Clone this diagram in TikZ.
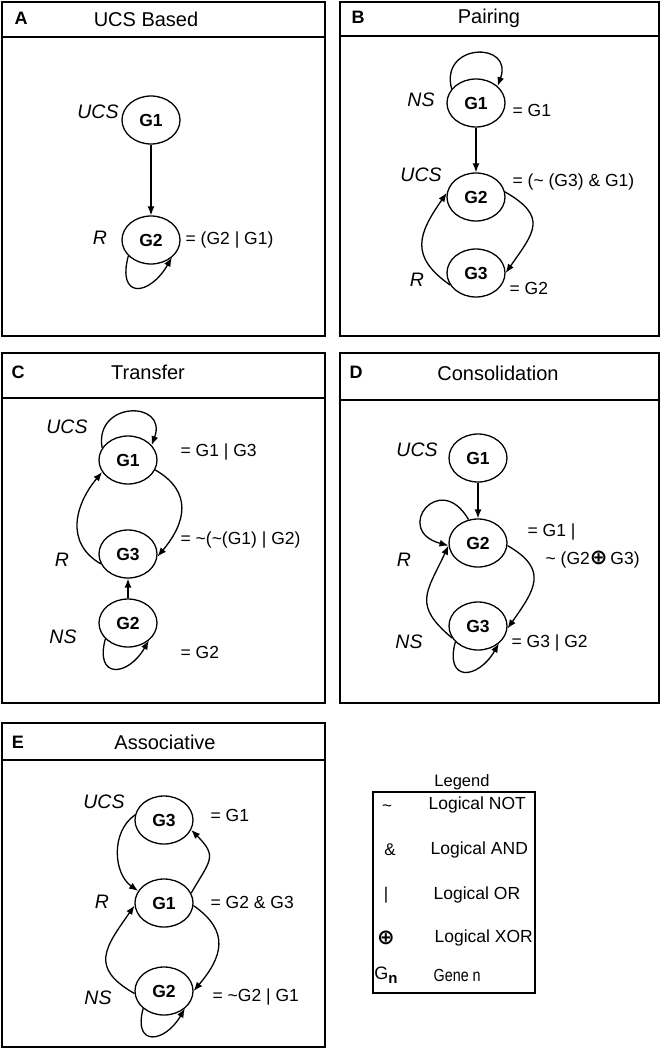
\documentclass[tikz,border=0pt]{standalone}
\usepackage{graphicx}
\usepackage{fontspec}
\setmainfont{Liberation Sans}
\newfontfamily\symfont{DejaVu Sans}
\usetikzlibrary{shapes.geometric, positioning, arrows.meta}

\newcommand{\xorsym}{{\symfont\bfseries\fontsize{21}{21}\selectfont ⊕}}

\begin{document}
\begin{tikzpicture}[x=1pt, y=1pt, on grid, line width=1.3pt,
    >={Latex[length=9pt,width=7pt]}]
        \tikzset{gene/.style={ellipse, draw, minimum width=58pt, minimum height=48pt,
                inner sep=0pt, font=\fontsize{17.5}{18}\selectfont\bfseries}}
        \tikzset{role/.style={inner sep=0pt, font=\fontsize{19.5}{20}\selectfont\itshape}}
        \tikzset{eqn/.style={inner sep=0pt, anchor=west, font=\fontsize{17.5}{18}\selectfont}}
        \tikzset{title/.style={inner sep=0pt, font=\fontsize{20}{21}\selectfont}}
        \tikzset{letter/.style={inner sep=0pt, font=\fontsize{18}{18}\selectfont\bfseries}}
        \tikzset{panel/.style={draw, line width=1.5pt}}
        \tikzset{legsym/.style={inner sep=0pt, font=\fontsize{17}{17}\selectfont}}
        \tikzset{legtext/.style={inner sep=0pt, anchor=west, font=\fontsize{17.5}{18}\selectfont}}

        \useasboundingbox (0,0) rectangle (664,-1051);

        % panel frames
        \draw[panel] (2,-2) rectangle (325,-336);
        \draw[panel] (2,-37) -- (325,-37);
        \draw[panel] (340,-2) rectangle (659,-336);
        \draw[panel] (340,-36) -- (659,-36);
        \draw[panel] (2,-353) rectangle (325,-703);
        \draw[panel] (2,-398) -- (325,-398);
        \draw[panel] (340,-353) rectangle (659,-703);
        \draw[panel] (340,-400) -- (659,-400);
        \draw[panel] (2,-723) rectangle (325,-1047);
        \draw[panel] (2,-760) -- (325,-760);

        % A: UCS based
        \node[letter] (a_l) at (21,-18) {A};
        \node[title] (a_t) at (146,-19) {UCS Based};
        \node[gene] (a_1) at (151,-120) {G1};
        \node[gene] (a_2) [below=120pt of a_1] {G2};
        \node[role] (a_ucs) at (98,-112) {UCS};
        \node[role] (a_r) at (100,-238) {R};
        \node[eqn] (a_e2) at (185,-240) {= (G2 | G1)};
        \path[->]
        (a_1) edge (a_2)
        (a_2.215) edge[out=255, in=240, distance=45pt] (a_2.-40);

        % B: pairing
        \node[letter] (b_l) at (358,-17) {B};
        \node[title] (b_t) at (489,-18) {Pairing};
        \node[gene] (b_1) at (476,-103) {G1};
        \node[gene] (b_2) [below=94pt of b_1] {G2};
        \node[gene] (b_3) [below=76pt of b_2] {G3};
        \node[role] (b_ns) at (421,-100) {NS};
        \node[role] (b_ucs) at (421,-175) {UCS};
        \node[role] (b_r) at (417,-280) {R};
        \node[eqn] (b_e1) at (512,-110) {= G1};
        \node[eqn] (b_e2) at (512,-182) {= (\textasciitilde{} (G3) \& G1)};
        \node[eqn] (b_e3) at (509,-288) {= G2};
        \path[->]
        (b_1) edge (b_2)
        (b_1.150) edge[out=105, in=70, distance=48pt] (b_1.38)
        (b_2.10) edge[out=-30, in=55, distance=50pt] (b_3.0)
        (b_3.205) edge[out=145, in=235, distance=50pt] (b_2.172);

        % C: transfer
        \node[letter] (c_l) at (18,-372) {C};
        \node[title] (c_t) at (148,-372) {Transfer};
        \node[gene] (c_1) at (128,-460) {G1};
        \node[gene] (c_3) [below=94pt of c_1] {G3};
        \node[gene] (c_2) [below=69pt of c_3] {G2};
        \node[role] (c_ucs) at (67,-427) {UCS};
        \node[role] (c_r) at (62,-560) {R};
        \node[role] (c_ns) at (63,-637) {NS};
        \node[eqn] (c_e1) at (180,-452) {= G1 | G3};
        \node[eqn] (c_e3) at (180,-540) {= \textasciitilde(\textasciitilde(G1) | G2)};
        \node[eqn] (c_e2) at (180,-652) {= G2};
        \path[->]
        (c_2) edge (c_3)
        (c_1.155) edge[out=100, in=70, distance=48pt] (c_1.32)
        (c_1.-20) edge[out=-30, in=50, distance=44pt] (c_3.-5)
        (c_3.200) edge[out=150, in=230, distance=42pt] (c_1.205)
        (c_2.215) edge[out=255, in=240, distance=42pt] (c_2.-40);

        % D: consolidation
        \node[letter] (d_l) at (356,-372) {D};
        \node[title] (d_t) at (498,-373) {Consolidation};
        \node[gene] (d_1) at (478,-458) {G1};
        \node[gene] (d_2) [below=85pt of d_1] {G2};
        \node[gene] (d_3) [below=83pt of d_2] {G3};
        \node[role] (d_ucs) at (417,-450) {UCS};
        \node[role] (d_r) at (404,-560) {R};
        \node[role] (d_ns) at (409,-642) {NS};
        \node[eqn] (d_e2a) at (527,-532) {= G1 |};
        \node[eqn] (d_e2b) at (545,-560) {\textasciitilde{} (G2\xorsym\,G3)};
        \node[eqn] (d_e3) at (511,-643) {= G3 | G2};
        \path[->]
        (d_1) edge (d_2)
        (d_2.112) edge[out=120, in=165, distance=58pt] (d_2.185)
        (d_3.205) edge[out=140, in=245, distance=52pt] (d_2.185)
        (d_2.-5) edge[out=-30, in=55, distance=48pt] (d_3.-5)
        (d_3.215) edge[out=255, in=240, distance=42pt] (d_3.-40);

        % E: associative
        \node[letter] (e_l) at (18,-742) {E};
        \node[title] (e_t) at (165,-742) {Associative};
        \node[gene] (e_3) at (164,-820) {G3};
        \node[gene] (e_1) [below=83pt of e_3] {G1};
        \node[gene] (e_2) [below=88pt of e_1] {G2};
        \node[role] (e_ucs) at (104,-802) {UCS};
        \node[role] (e_r) at (102,-902) {R};
        \node[role] (e_ns) at (98,-998) {NS};
        \node[eqn] (e_e3) at (210,-815) {= G1};
        \node[eqn] (e_e1) at (210,-902) {= G2 \& G3};
        \node[eqn] (e_e2) at (212,-997) {= \textasciitilde G2 | G1};
        \path[->]
        (e_3.170) edge[out=215, in=145, distance=30pt] (e_1.155)
        (e_1.20) edge[out=60, in=-45, distance=38pt] (e_3.-20)
        (e_1.-5) edge[out=-35, in=50, distance=45pt] (e_2.0)
        (e_2.185) edge[out=150, in=235, distance=52pt] (e_1.185)
        (e_2.220) edge[out=255, in=240, distance=40pt] (e_2.-40);

        % legend
        \node[inner sep=0pt, font=\fontsize{16.5}{17}\selectfont] (leg) at (462,-782) {Legend};
        \draw[line width=1.3pt] (373,-792) rectangle (535,-993);
        \node[legsym] (s_not) at (387,-808) {\textasciitilde};
        \node[legtext] (t_not) at (428,-805) {Logical NOT};
        \node[legsym] (s_and) at (390,-850) {\&};
        \node[legtext] (t_and) at (430,-850) {Logical AND};
        \node[legsym] (s_or) at (386,-895) {|};
        \node[legtext] (t_or) at (433,-895) {Logical OR};
        \node[legsym] (s_xor) at (386,-938) {\xorsym};
        \node[legtext] (t_xor) at (434,-938) {Logical XOR};
        \node[legsym] (s_gene) at (386,-975) {\fontsize{18}{18}\selectfont G\raisebox{-4pt}{\fontsize{15}{15}\selectfont\bfseries n}};
        \node[legtext] (t_gene) at (433,-975) {\scalebox{0.82}[1]{Gene n}};
\end{tikzpicture}
\end{document}
